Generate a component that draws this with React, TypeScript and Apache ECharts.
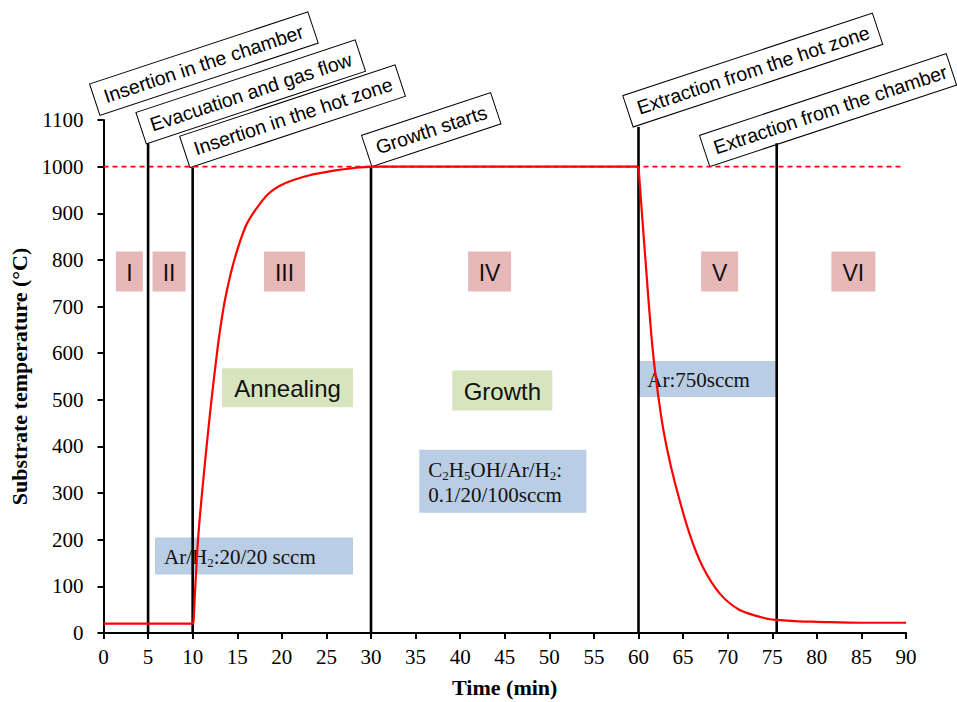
import React, { useEffect, useRef } from "react";
import * as echarts from "echarts";

// ---- data ----
const timeMin = [0, 10, 10.1, 10.6, 11.2, 11.75, 12.2, 12.6, 13, 13.6, 14.6, 15.9, 17, 18.5, 20.3, 23, 26, 28, 30, 60, 60.7, 61.6, 62.5, 63.2, 64.1, 65.7, 67.2, 69.1, 71.3, 74.3, 75.5, 78, 80, 85, 90];
const temperature = [20, 20, 24, 200, 330, 435, 515, 580, 640, 712, 795, 870, 906, 942, 964, 981, 992, 997, 1000, 1000, 820, 606, 470, 395, 321, 214, 142, 85, 50, 31, 28, 25, 24, 22, 22];
// index ranges of the profile phases: hold, heating, plateau, cooling
const phaseStart = [0, 2, 18, 19];
const phaseEnd = [2, 18, 19, 34];
const phaseSmooth = [false, true, false, true];

const setpoint = 1000;
const stageTimes = [5, 10, 30, 60, 75.5];
const stageTops = [1050, 998, 1000, 1085, 1050];

const eventNames = [
  "Insertion in the chamber",
  "Evacuation and gas flow",
  "Insertion in the hot zone",
  "Growth starts",
  "Extraction from the hot zone",
  "Extraction from the chamber",
];
const eventAnchorTime = [-0.4, 4.8, 9.7, 30.1, 59.4, 68];
const eventAnchorTemp = [1110, 1049, 998, 1000, 1085, 1000];

const romanNames = ["I", "II", "III", "IV", "V", "VI"];
const romanTime = [2.9, 7.35, 20.3, 43.3, 69.1, 84.1];
const romanTemp = 775;

const noteTexts = [
  "Annealing",
  "Growth",
  "C{s|2}H{s|5}OH/Ar/H{s|2}:\n0.1/20/100sccm",
  "Ar/H{s|2}:20/20 sccm",
  "Ar:750sccm",
];
const noteAnchorTime = [13.29, 39.12, 35.42, 5.78, 59.97];
const noteAnchorTemp = [567.8, 562.9, 392.8, 205, 583.5];

// ---- layout / style ----
const SERIF = "'Times New Roman', 'Liberation Serif', serif";
const SANS = "Arial, 'Liberation Sans', sans-serif";
const EVENT_LEN = [230, 231, 227, 136, 263, 260];
const EVENT_H = 33;
const ROT = (18.3 * Math.PI) / 180;
const ROMAN_W = [27, 33, 41, 43, 37, 44];
const ROMAN_H = 40;
const PINK = "#e6b9b8";
const GREEN = "#d7e4bd";
const BLUE = "#b9cde5";
const noteStyle = [
  { w: 131, h: 39, fill: GREEN, family: SANS, size: 24, align: "center" },
  { w: 100, h: 40, fill: GREEN, family: SANS, size: 24, align: "center" },
  { w: 167, h: 63, fill: BLUE, family: SERIF, size: 21, align: "left" },
  { w: 198, h: 37, fill: BLUE, family: SERIF, size: 21, align: "left" },
  { w: 138, h: 36, fill: BLUE, family: SERIF, size: 21, align: "left" },
];

export default function App() {
  const ref = useRef<HTMLDivElement>(null);

  useEffect(() => {
    document.body.style.margin = "0";
    if (!ref.current) return;
    const chart = echarts.init(ref.current, undefined, { renderer: "svg" });

    const curve = timeMin.map((t, i) => [t, temperature[i]]);

    const stageSeries = stageTimes.map((t, i) => ({
      type: "line",
      data: [
        [t, 0],
        [t, stageTops[i]],
      ],
      showSymbol: false,
      symbol: "none",
      silent: true,
      lineStyle: { color: "#000", width: 2.6 },
      z: 3,
    }));

    const profileSeries = phaseStart.map((s, i) => ({
      type: "line",
      data: curve.slice(s, phaseEnd[i] + 1),
      showSymbol: false,
      symbol: "none",
      smooth: phaseSmooth[i] ? 0.3 : false,
      lineStyle: { color: "#ff0000", width: 2.2 },
      z: 4,
    }));

    chart.setOption({
      animation: false,
      backgroundColor: "#fff",
      grid: { left: 103.5, right: 51, top: 120, bottom: 69, outerBoundsMode: "none", containLabel: false },
      xAxis: {
        type: "value",
        min: 0,
        max: 90,
        interval: 5,
        name: "Time (min)",
        nameLocation: "middle",
        nameGap: 43,
        nameTextStyle: { fontFamily: SERIF, fontSize: 22, fontWeight: "bold", color: "#000" },
        axisLine: { show: true, onZero: false, lineStyle: { color: "#000", width: 2 } },
        axisTick: { show: true, length: 6, lineStyle: { color: "#000", width: 2 } },
        axisLabel: { fontFamily: SERIF, fontSize: 21, color: "#000", margin: 13, formatter: (v: number) => String(v) },
        splitLine: { show: false },
      },
      yAxis: {
        type: "value",
        min: 0,
        max: 1100,
        interval: 100,
        name: "Substrate temperature (°C)",
        nameLocation: "middle",
        nameGap: 68,
        nameTextStyle: { fontFamily: SERIF, fontSize: 22, fontWeight: "bold", color: "#000" },
        axisLine: { show: true, onZero: false, lineStyle: { color: "#000", width: 2 } },
        axisTick: { show: true, length: 6, lineStyle: { color: "#000", width: 2 } },
        axisLabel: { fontFamily: SERIF, fontSize: 21, color: "#000", margin: 20, formatter: (v: number) => String(v) },
        splitLine: { show: false },
      },
      series: [
        ...stageSeries,
        {
          type: "line",
          data: [
            [0, setpoint],
            [89.8, setpoint],
          ],
          showSymbol: false,
          symbol: "none",
          silent: true,
          lineStyle: { color: "#ff0000", width: 1.6, type: [5, 4] },
          z: 2,
        },
        ...profileSeries,
      ],
    });

    const px = (x: number, y: number) => chart.convertToPixel({ gridIndex: 0 }, [x, y]) as number[];

    const graphics: any[] = [];

    eventNames.forEach((name, i) => {
      const p = px(eventAnchorTime[i], eventAnchorTemp[i]);
      graphics.push({
        type: "group",
        x: p[0],
        y: p[1],
        rotation: ROT,
        z: 20,
        children: [
          {
            type: "rect",
            shape: { x: 0, y: -EVENT_H, width: EVENT_LEN[i], height: EVENT_H },
            style: { fill: "#fff", stroke: "#000", lineWidth: 1 },
          },
          {
            type: "text",
            x: 10,
            y: -EVENT_H / 2,
            style: {
              text: name,
              fontFamily: SANS,
              fontSize: 19.5,
              fill: "#000",
              align: "left",
              verticalAlign: "middle",
            },
          },
        ],
      });
    });

    romanNames.forEach((name, i) => {
      const p = px(romanTime[i], romanTemp);
      graphics.push({
        type: "group",
        x: p[0],
        y: p[1],
        z: 15,
        children: [
          {
            type: "rect",
            shape: { x: -ROMAN_W[i] / 2, y: -ROMAN_H / 2, width: ROMAN_W[i], height: ROMAN_H },
            style: { fill: PINK },
          },
          {
            type: "text",
            x: 0,
            y: 1,
            style: {
              text: name,
              fontFamily: SANS,
              fontSize: 23,
              fill: "#111",
              align: "center",
              verticalAlign: "middle",
            },
          },
        ],
      });
    });

    noteTexts.forEach((text, i) => {
      const s = noteStyle[i];
      const p = px(noteAnchorTime[i], noteAnchorTemp[i]);
      graphics.push({
        type: "group",
        x: p[0],
        y: p[1],
        z: 15,
        children: [
          {
            type: "rect",
            shape: { x: 0, y: 0, width: s.w, height: s.h },
            style: { fill: s.fill },
          },
          {
            type: "text",
            x: s.align === "center" ? s.w / 2 : 9,
            y: s.h / 2 + 1,
            style: {
              text,
              fontFamily: s.family,
              fontSize: s.size,
              lineHeight: 25,
              fill: "#111",
              align: s.align,
              verticalAlign: "middle",
              rich: {
                s: {
                  fontFamily: s.family,
                  fontSize: 13,
                  lineHeight: 13,
                  verticalAlign: "bottom",
                  fill: "#111",
                },
              },
            },
          },
        ],
      });
    });

    chart.setOption({ graphic: graphics });

    return () => {
      chart.dispose();
    };
  }, []);

  return <div ref={ref} style={{ width: 957, height: 702 }} />;
}
